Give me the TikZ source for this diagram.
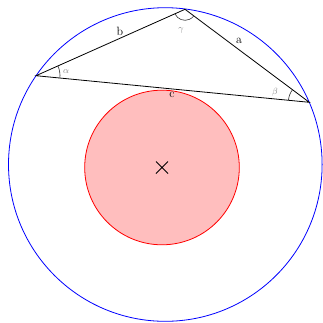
\documentclass[tikz,border=0pt]{standalone}
\usetikzlibrary{angles,calc}
\definecolor{fillred}{RGB}{255,190,190}
\begin{document}
\begin{tikzpicture}[x=1pt,y=-1pt,
  side/.style={draw=black,line width=0.8pt},
  lbl/.style={inner sep=0pt,font=\large},
  glbl/.style={inner sep=0pt,text=gray,font=\small},
  anglearc/.style={draw=black!80,line width=0.6pt}]
\useasboundingbox (0,0) rectangle (323,322);
\coordinate (A) at (36,75.7);
\coordinate (B) at (185,9.3);
\coordinate (C) at (309.3,102.3);
\coordinate (O) at (165.3,164.5);
\coordinate (M) at (162,167.5);
\draw[blue,line width=0.8pt] (O) circle[radius=156.8];
\draw[red,fill=fillred,line width=0.8pt] (M) circle[radius=77.3];
\draw[line width=0.8pt] ($(M)+(-6,-6)$) -- ($(M)+(6,6)$) ($(M)+(-6,6)$) -- ($(M)+(6,-6)$);
\draw[side] (A) -- (B) -- (C) -- cycle;
\pic[anglearc,angle radius=24pt] {angle=C--A--B};
\pic[anglearc,angle radius=11pt] {angle=A--B--C};
\pic[anglearc,angle radius=21pt] {angle=B--C--A};
\node[lbl] (lb) at (120,31.5) {b};
\node[lbl] (la) at (239,41) {a};
\node[lbl] (lc) at (172,95) {c};
\node[glbl] (lal) at (66,72) {$\alpha$};
\node[glbl] (lbe) at (275,92) {$\beta$};
\node[glbl] (lga) at (181,30) {$\gamma$};
\end{tikzpicture}
\end{document}
